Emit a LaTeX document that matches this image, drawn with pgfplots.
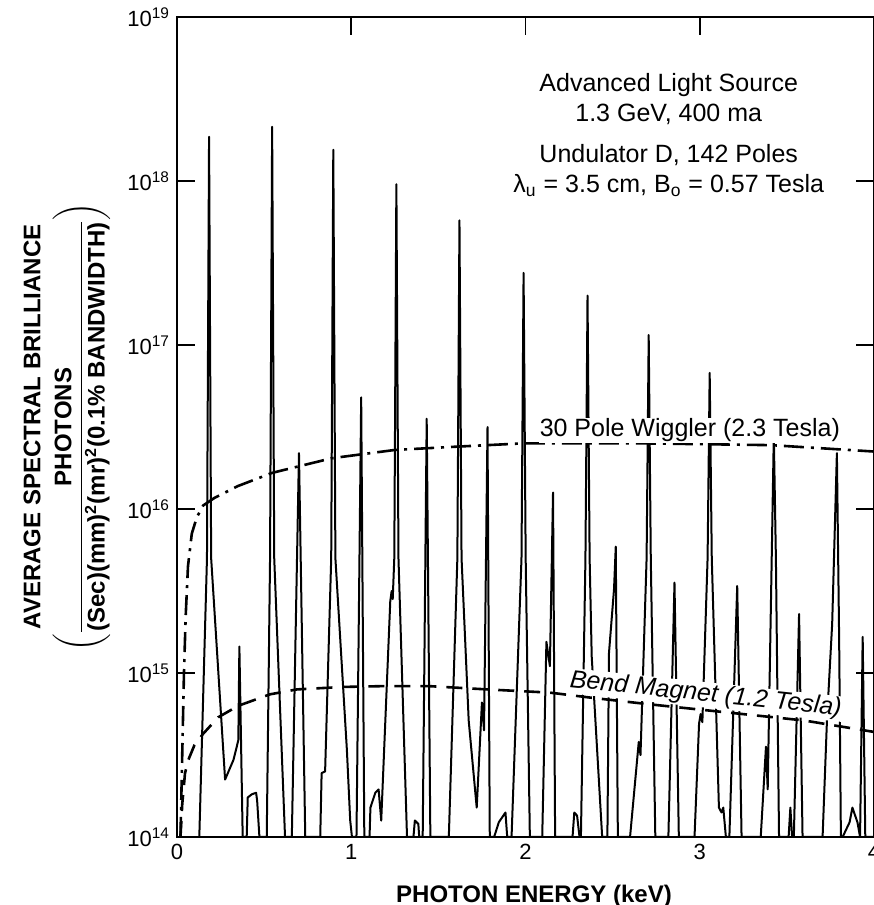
\documentclass[border=0pt]{standalone}
\usepackage{pgfplots}
\pgfplotsset{compat=1.18}
\usepackage{fontspec}
\setmainfont{Liberation Sans}
\usepackage{amsmath}
\usetikzlibrary{calc}

% undulator D spectrum (keV, photons/...)
\pgfplotstableread{
x y
0.128 1e14
0.172 5.01e15
0.184 1.86e18
0.196 5.01e15
0.276 2.24e14
0.324 2.95e14
0.352 3.89e14
0.358 1.45e15
0.377 1e14
0.400 1e14
0.406 1.74e14
0.429 1.82e14
0.454 1.86e14
0.460 1.66e14
0.473 1e14
0.515 1e14
0.534 5.01e15
0.546 2.14e18
0.558 5.01e15
0.620 1e14
0.659 1e14
0.700 2.19e16
0.736 1e14
0.822 1e14
0.830 2.45e14
0.850 2.51e14
0.885 5.01e15
0.897 1.55e18
0.909 5.01e15
0.975 3.39e14
0.994 1.26e14
1.004 1e14
1.030 1e14
1.057 4.79e16
1.075 1e14
1.105 1e14
1.110 1.51e14
1.138 1.86e14
1.157 1.95e14
1.172 1.26e14
1.224 2.75e15
1.232 3.16e15
1.238 2.82e15
1.247 5.01e15
1.259 9.55e17
1.271 5.01e15
1.320 1e14
1.357 1e14
1.365 1.26e14
1.385 1.20e14
1.390 1e14
1.410 1e14
1.433 3.55e16
1.454 1e14
1.560 1e14
1.609 5.01e15
1.621 5.75e17
1.633 5.01e15
1.674 5.13e14
1.720 1.51e14
1.750 6.61e14
1.762 4.47e14
1.782 3.16e16
1.795 1e14
1.820 1e14
1.847 1.23e14
1.885 1.41e14
1.895 1e14
1.920 1e14
1.977 5.01e15
1.989 2.75e17
2.001 5.01e15
2.025 1e14
2.096 1e14
2.120 1.55e15
2.140 1.10e15
2.158 1.26e16
2.170 1e14
2.270 1e14
2.280 1.41e14
2.296 1.35e14
2.310 1e14
2.318 1e14
2.344 5.01e15
2.356 2.00e17
2.368 5.01e15
2.380 1.26e15
2.440 1e14
2.470 1e14
2.479 1.32e15
2.508 3.24e15
2.518 5.89e15
2.530 1e14
2.600 1e14
2.650 3.80e14
2.660 3.16e14
2.695 5.01e15
2.707 1.15e17
2.719 5.01e15
2.745 1e14
2.820 1e14
2.855 3.55e15
2.880 1e14
2.970 1e14
2.996 4.90e14
3.005 5.62e14
3.015 5.01e14
3.045 5.01e15
3.057 6.76e16
3.069 5.01e15
3.110 1.51e14
3.125 1.41e14
3.135 1.51e14
3.150 1e14
3.170 1e14
3.215 3.39e15
3.240 1e14
3.350 1e14
3.380 3.55e14
3.390 1.95e14
3.413 5.01e15
3.425 2.82e16
3.437 5.01e15
3.455 1e14
3.510 1e14
3.520 1.51e14
3.530 1e14
3.540 1e14
3.570 2.29e15
3.590 1e14
3.705 1e14
3.730 5.13e14
3.760 2.0e15
3.787 2.19e16
3.800 1.6e15
3.810 1e14
3.820 1e14
3.860 1.23e14
3.876 1.51e14
3.905 1.23e14
3.920 1e14
3.935 1.66e15
3.950 1e14
4.000 1e14
}\undulator

% 30 pole wiggler, 2.3 T
\pgfplotstableread{
x y
0.020 1e14
0.030 3.16e14
0.040 1e15
0.050 2.24e15
0.063 4.47e15
0.085 7.08e15
0.114 8.91e15
0.150 1.05e16
0.216 1.17e16
0.350 1.38e16
0.546 1.66e16
0.889 2.04e16
1.250 2.29e16
1.610 2.40e16
1.980 2.51e16
2.700 2.51e16
3.410 2.45e16
4.000 2.24e16
}\wiggler

% bend magnet, 1.2 T
\pgfplotstableread{
x y
0.020 1e14
0.030 1.58e14
0.046 2.45e14
0.065 2.95e14
0.100 3.63e14
0.151 4.27e14
0.237 5.37e14
0.352 6.31e14
0.534 7.41e14
0.688 7.94e14
0.955 8.22e14
1.200 8.32e14
1.440 8.32e14
1.780 7.94e14
2.140 7.59e14
2.370 7.08e14
2.700 6.46e14
3.060 5.89e14
3.600 5.13e14
4.000 4.37e14
}\bend

\begin{document}
\begin{tikzpicture}
\begin{axis}[
    name=ax,
    scale only axis,
    width=348.5pt, height=410pt,
    ymode=log,
    xmin=0, xmax=4, ymin=1e14, ymax=1e19,
    axis line style={line width=1pt},
    xtick={0,1,2,3,4}, xticklabels={0,1,2,3,4},
    xtick pos=right, xticklabel pos=left,
    ytick={1e14,1e15,1e16,1e17,1e18,1e19},
    yticklabels={10\textsuperscript{14},10\textsuperscript{15},10\textsuperscript{16},10\textsuperscript{17},10\textsuperscript{18},10\textsuperscript{19}},
    yminorticks=false,
    major tick length=9pt,
    tick style={line width=0.9pt, black},
    tick align=inside,
    ticklabel style={font=\fontsize{11}{13}\selectfont},
    ]
\addplot[black, line width=1pt, line join=round, mark=none] table[x=x,y=y] {\undulator};
\addplot[black, line width=1.3pt, dash pattern=on 10pt off 3.5pt on 1.5pt off 3.5pt, mark=none] table[x=x,y=y] {\wiggler};
\addplot[black, line width=1.3pt, dash pattern=on 8pt off 5pt, mark=none] table[x=x,y=y] {\bend};

\node[fill=white, inner sep=0.5pt, anchor=base, font=\fontsize{12.5}{15}\selectfont] at (axis cs:2.943,2.75e16) {30 Pole Wiggler (2.3 Tesla)};
\node[fill=white, inner sep=0.5pt, rotate=-6, font=\itshape\fontsize{12.5}{15}\selectfont] at (axis cs:3.034,7.35e14) {Bend Magnet (1.2 Tesla)};

\node[anchor=base, font=\fontsize{12.5}{15}\selectfont] at (axis cs:2.822,3.49e18) {Advanced Light Source};
\node[anchor=base, font=\fontsize{12.5}{15}\selectfont] at (axis cs:2.822,2.29e18) {1.3 GeV, 400 ma};
\node[anchor=base, font=\fontsize{12.5}{15}\selectfont] at (axis cs:2.822,1.29e18) {Undulator D, 142 Poles};
\node[anchor=base, font=\fontsize{12.5}{15}\selectfont] at (axis cs:2.822,8.46e17) {λ\textsubscript{u} = 3.5 cm, B\textsubscript{o} = 0.57 Tesla};
\end{axis}

\node[anchor=base, font=\bfseries\fontsize{12}{14}\selectfont] at ($(ax.south west)+(178.5pt,-32.5pt)$) {PHOTON ENERGY (keV)};

\node[rotate=90, align=center, font=\bfseries\fontsize{12}{14}\selectfont] at ($(ax.west)+(-55pt,0)$)
  {AVERAGE SPECTRAL BRILLIANCE\\[5pt]
   $\left(\dfrac{\mbox{\bfseries\fontsize{12}{14}\selectfont PHOTONS}}{\mbox{\bfseries\fontsize{12}{14}\selectfont (Sec)(mm)\textsuperscript{2}(mr)\textsuperscript{2}(0.1\% BANDWIDTH)}}\right)$};

\pgfresetboundingbox
\path[use as bounding box] ($(ax.south west)+(-88.5pt,-34pt)$) rectangle ($(ax.north east)+(-0.5pt,8.5pt)$);
\end{tikzpicture}
\end{document}
